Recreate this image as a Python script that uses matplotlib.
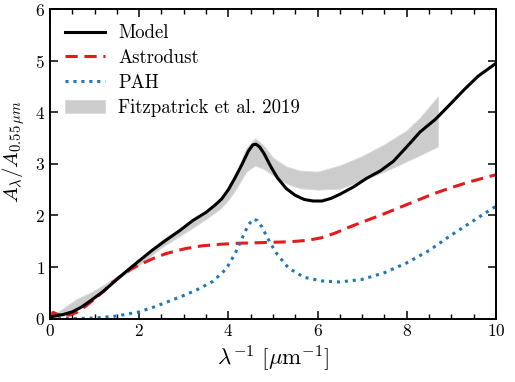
import numpy as np
import matplotlib
matplotlib.use("Agg")
import matplotlib.pyplot as plt
from matplotlib.ticker import MultipleLocator

plt.rcParams["font.family"] = "cmr10"
plt.rcParams["mathtext.fontset"] = "cm"
plt.rcParams["axes.formatter.use_mathtext"] = True

# Model curve
model_x = [0.05, 0.3, 0.5, 0.7, 0.9, 1.2, 1.5, 1.8, 2.0, 2.3, 2.6, 2.9, 3.2, 3.5, 3.7,
           3.85, 4.0, 4.15, 4.3, 4.45, 4.55, 4.62, 4.7, 4.8, 4.95, 5.1, 5.3, 5.5, 5.7,
           5.9, 6.1, 6.3, 6.5, 6.8, 7.1, 7.4, 7.7, 8.0, 8.3, 8.65, 9.0, 9.3, 9.6, 10.0]
model_y = [0.04, 0.08, 0.13, 0.22, 0.34, 0.53, 0.76, 0.98, 1.12, 1.33, 1.52, 1.70, 1.90,
           2.06, 2.20, 2.32, 2.50, 2.73, 2.98, 3.25, 3.37, 3.38, 3.33, 3.20, 2.95, 2.73,
           2.52, 2.39, 2.31, 2.28, 2.28, 2.33, 2.41, 2.55, 2.72, 2.86, 3.05, 3.33, 3.62,
           3.87, 4.18, 4.45, 4.70, 4.95]

# Astrodust component
astro_x = [0.02, 0.07, 0.12, 0.25, 0.45, 0.6, 0.8, 1.0, 1.2, 1.4, 1.6, 1.8, 2.0, 2.3, 2.6,
           3.0, 3.4, 3.8, 4.2, 4.6, 5.0, 5.4, 5.8, 6.1, 6.4, 6.7, 7.0, 7.4, 7.8, 8.2, 8.6,
           9.0, 9.4, 9.7, 10.0]
astro_y = [0.03, 0.12, 0.10, 0.06, 0.07, 0.12, 0.24, 0.38, 0.53, 0.70, 0.83, 0.95, 1.04,
           1.16, 1.26, 1.35, 1.41, 1.44, 1.46, 1.47, 1.48, 1.49, 1.52, 1.57, 1.66, 1.77,
           1.87, 2.00, 2.14, 2.28, 2.42, 2.54, 2.65, 2.72, 2.79]

# PAH component
pah_x = [0.0, 0.5, 1.0, 1.5, 2.0, 2.35, 2.65, 2.95, 3.3, 3.65, 3.95, 4.15, 4.33, 4.45, 4.56,
         4.65, 4.75, 4.88, 5.0, 5.1, 5.35, 5.7, 6.1, 6.5, 7.0, 7.5, 8.0, 8.5, 9.0, 9.5, 10.0]
pah_y = [0.0, 0.0, 0.01, 0.05, 0.13, 0.23, 0.33, 0.43, 0.56, 0.72, 0.96, 1.26, 1.60, 1.82,
         1.93, 1.90, 1.78, 1.56, 1.38, 1.24, 0.98, 0.80, 0.73, 0.71, 0.76, 0.89, 1.08,
         1.32, 1.62, 1.90, 2.18]

# Fitzpatrick et al. 2019 envelope
fm_x = [0.1, 0.3, 0.6, 0.9, 1.2, 1.5, 2.0, 2.5, 3.0, 3.5, 3.8, 4.0, 4.2, 4.4, 4.6, 4.8,
        5.0, 5.3, 5.6, 6.0, 6.5, 7.0, 7.5, 8.0, 8.3, 8.7]
fm_lo = [0.02, 0.06, 0.18, 0.32, 0.52, 0.75, 1.04, 1.38, 1.65, 1.93, 2.12, 2.30, 2.55,
         2.85, 2.97, 2.90, 2.78, 2.62, 2.53, 2.50, 2.52, 2.68, 2.85, 3.05, 3.17, 3.34]
fm_hi = [0.08, 0.20, 0.38, 0.50, 0.65, 0.82, 1.12, 1.52, 1.80, 2.08, 2.30, 2.55, 2.88,
         3.30, 3.50, 3.35, 3.12, 2.95, 2.87, 2.85, 2.97, 3.15, 3.38, 3.65, 3.90, 4.31]

fig = plt.figure(figsize=(5.15, 3.82), dpi=100)
ax = fig.add_axes([0.097, 0.166, 0.866, 0.81])

ax.fill_between(fm_x, fm_lo, fm_hi, color="0.8", lw=0.6, edgecolor="0.85",
                label="Fitzpatrick et al. 2019", zorder=1)
ax.plot(model_x, model_y, color="black", lw=2.2, label="Model", zorder=3)
ax.plot(astro_x, astro_y, color="#e41a1c", lw=2.2, ls=(0, (4, 2.2)), label="Astrodust", zorder=2)
ax.plot(pah_x, pah_y, color="#1f77b4", lw=2.2, ls=(0, (1, 1.6)), label="PAH", zorder=2)

ax.set_xlim(0, 10)
ax.set_ylim(0, 6)
ax.xaxis.set_major_locator(MultipleLocator(2))
ax.xaxis.set_minor_locator(MultipleLocator(0.5))
ax.yaxis.set_major_locator(MultipleLocator(1))
ax.tick_params(which="both", direction="in", top=True, right=True, labelsize=12.5)
ax.tick_params(which="major", length=6, width=1.1)
ax.tick_params(which="minor", length=3.5, width=1.0)
for s in ax.spines.values():
    s.set_linewidth(1.4)

ax.set_xlabel(r"$\lambda^{-1}\ [\mu\mathrm{m}^{-1}]$", fontsize=16.5, labelpad=3)
ax.set_ylabel(r"$A_\lambda/A_{0.55\,\mu m}$", fontsize=15)
ax.yaxis.set_label_coords(-0.052, 0.54)

h, l = ax.get_legend_handles_labels()
order = [1, 2, 3, 0]
ax.legend([h[i] for i in order], [l[i] for i in order], loc="upper left", frameon=False,
          fontsize=13.5, handlelength=2.13, handletextpad=0.7, labelspacing=0.37,
          borderaxespad=0.4)

fig.savefig("out.png", dpi=100)
